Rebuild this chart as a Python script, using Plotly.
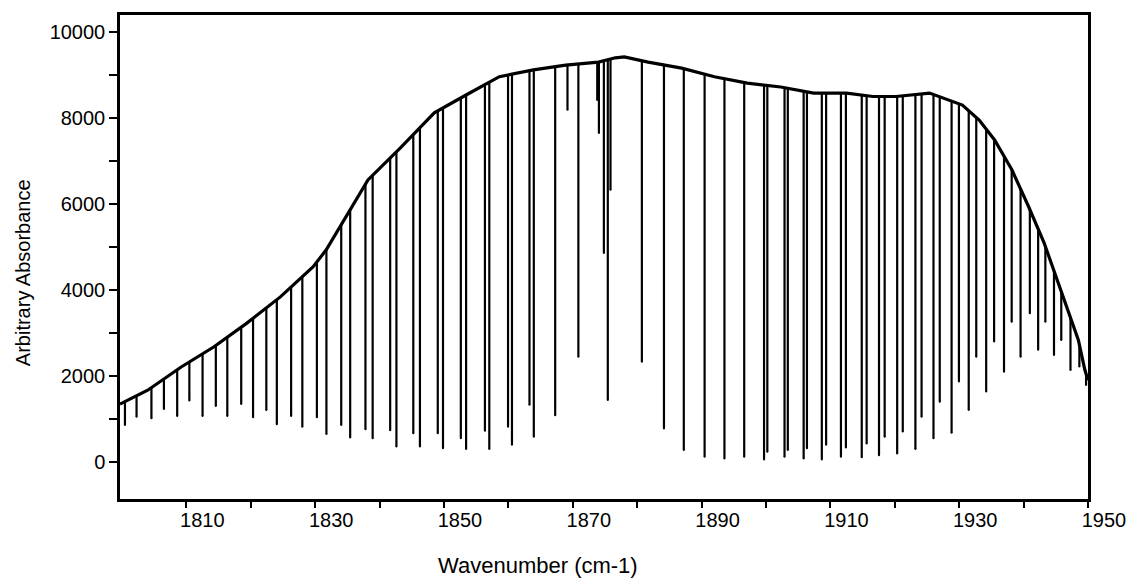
import plotly.graph_objects as go

# ---- data ----
# smooth upper envelope of the spectrum (wavenumber, absorbance)
env_wn = [1799.7, 1800.0, 1804.0, 1809.2, 1814.3, 1819.4, 1824.6, 1829.7, 1831.7,
          1834.0, 1836.0, 1838.2, 1843.2, 1848.5, 1853.5, 1858.6, 1863.9, 1868.9,
          1874.0, 1876.6, 1878.0, 1881.7, 1886.9, 1892.0, 1897.1, 1902.3, 1907.4,
          1912.5, 1916.6, 1920.2, 1925.4, 1930.5, 1933.1, 1935.5, 1938.2, 1940.8,
          1943.2, 1945.9, 1948.5, 1949.5, 1950.0]
env_val = [1350, 1370, 1670, 2210, 2680, 3230, 3840, 4540, 4930,
           5500, 6000, 6560, 7300, 8120, 8540, 8960, 9120, 9230,
           9300, 9400, 9420, 9300, 9160, 8960, 8810, 8720, 8580,
           8580, 8500, 8500, 8580, 8300, 7950, 7490, 6790, 5930,
           5090, 3930, 2840, 2150, 1900]

# absorption lines: position (cm-1) and minimum absorbance
line_wn = [1800.47, 1802.27, 1804.58, 1806.52, 1808.58, 1810.47, 1812.52, 1814.58,
           1816.36, 1818.52, 1820.36, 1822.42, 1824.05, 1826.27, 1828.01, 1830.27,
           1831.75, 1834.05, 1835.44, 1837.81, 1838.93, 1841.65, 1842.62, 1845.24,
           1846.27, 1849.04, 1849.85, 1852.62, 1853.44, 1856.36, 1857.04, 1859.95,
           1860.56, 1863.28, 1863.95, 1867.27, 1869.18, 1870.87, 1873.80, 1874.06,
           1874.83, 1875.44, 1875.86, 1880.73, 1884.16, 1887.24, 1890.47, 1893.55,
           1896.62, 1899.70, 1900.21, 1902.88, 1903.39, 1905.85, 1906.36, 1908.67,
           1909.34, 1911.64, 1912.41, 1914.87, 1915.63, 1917.55, 1918.43, 1920.37,
           1921.24, 1923.20, 1924.16, 1926.01, 1926.98, 1928.82, 1929.96, 1931.48,
           1932.65, 1934.19, 1935.42, 1936.96, 1938.15, 1939.53, 1940.97, 1942.26,
           1943.38, 1944.72, 1945.85, 1947.28, 1948.66, 1949.70]
line_min = [860, 1050, 1020, 1230, 1070, 1430, 1070, 1300,
            1070, 1350, 1040, 1210, 880, 1070, 820, 1040,
            650, 860, 570, 760, 550, 740, 360, 670,
            360, 670, 320, 550, 300, 730, 300, 820,
            400, 1330, 590, 1090, 8190, 2450, 8420, 7650,
            4860, 1440, 6330, 2330, 780, 280, 120, 80,
            120, 60, 240, 120, 280, 80, 320, 60,
            400, 120, 340, 110, 430, 160, 590, 200,
            710, 300, 1050, 550, 1400, 680, 1870, 1210,
            2450, 1640, 2800, 2100, 3260, 2450, 3460, 2610,
            3260, 2490, 2840, 2140, 2220, 1790]

x_tick_vals = [1810, 1820, 1830, 1840, 1850, 1860, 1870, 1880, 1890, 1900, 1910, 1920, 1930, 1940, 1950]
x_tick_text = ["1810", "", "1830", "", "1850", "", "1870", "", "1890", "", "1910", "", "1930", "", "1950"]
y_tick_vals = [0, 1000, 2000, 3000, 4000, 5000, 6000, 7000, 8000, 9000, 10000]
y_tick_text = ["0", "", "2000", "", "4000", "", "6000", "", "8000", "", "10000"]

# ---- axis geometry / style ----
X_RANGE = [1799.7, 1950.0]
Y_RANGE = [-860, 10395]
FONT = "Arial, Liberation Sans, sans-serif"

fig = go.Figure()

# absorption lines as vertical strokes rising from each line minimum
fig.add_trace(go.Scatter(
    x=line_wn, y=line_min, mode="markers",
    marker=dict(size=2, color="black"),
    error_y=dict(type="data", symmetric=False,
                 array=[Y_RANGE[1] - m for m in line_min],
                 arrayminus=[0] * len(line_min),
                 width=0, thickness=2.2, color="black"),
    hoverinfo="skip", showlegend=False))

# upper boundary used to blank the strokes above the envelope
fig.add_trace(go.Scatter(
    x=X_RANGE, y=[Y_RANGE[1], Y_RANGE[1]], mode="lines",
    line=dict(width=0, color="white"), hoverinfo="skip", showlegend=False))

# envelope line, with white fill above it
fig.add_trace(go.Scatter(
    x=env_wn, y=env_val, mode="lines", fill="tonexty", fillcolor="white",
    line=dict(color="black", width=3.2), showlegend=False))

fig.update_layout(
    width=1138, height=579,
    margin=dict(l=120, r=41, t=15, b=80),
    paper_bgcolor="white", plot_bgcolor="white",
    font=dict(family=FONT, size=20, color="black"),
    showlegend=False,
    xaxis=dict(range=X_RANGE, tickvals=x_tick_vals, ticktext=x_tick_text,
               ticks="outside", ticklen=6, tickwidth=1.5, tickcolor="black",
               ticklabelshift=16, ticklabelstandoff=-5,
               showline=True, linecolor="black", linewidth=2.5, mirror=True,
               showgrid=False, zeroline=False, tickfont=dict(size=20)),
    yaxis=dict(range=Y_RANGE, tickvals=y_tick_vals, ticktext=y_tick_text,
               ticks="outside", ticklen=8, tickwidth=1.5, tickcolor="black",
               showline=True, linecolor="black", linewidth=2.5, mirror=True,
               showgrid=False, zeroline=False, tickfont=dict(size=20)),
    annotations=[
        dict(text="Wavenumber (cm-1)", xref="paper", yref="paper",
             x=0.432, y=-0.137, xanchor="center", yanchor="middle",
             showarrow=False, font=dict(size=22)),
        dict(text="Arbitrary Absorbance", xref="paper", yref="paper",
             x=-0.1, y=0.467, xanchor="center", yanchor="middle",
             textangle=-90, showarrow=False, font=dict(size=20)),
    ],
)

fig.write_html("out.html")
